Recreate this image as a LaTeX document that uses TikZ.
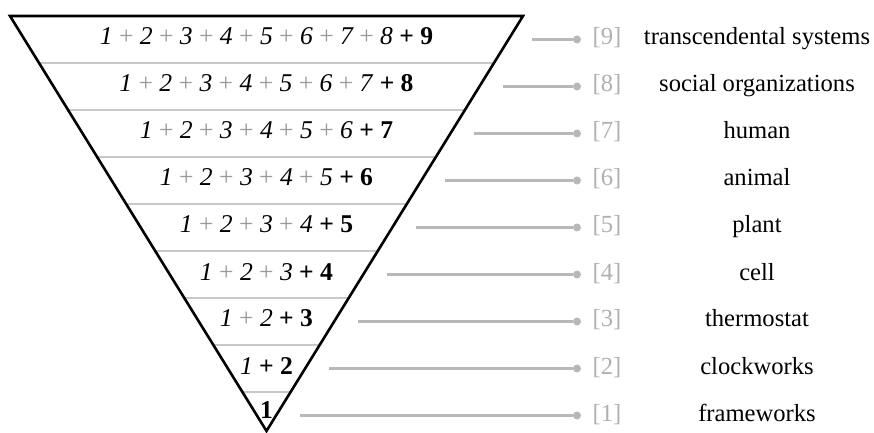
\documentclass[tikz,border=0pt]{standalone}
\usepackage{fontspec}
\setmainfont{Liberation Serif}
\usetikzlibrary{calc}
\definecolor{sepgray}{HTML}{C8C8C8}
\definecolor{linkgray}{HTML}{B8B8B8}
\definecolor{plusgray}{HTML}{999999}
\definecolor{numgray}{HTML}{B0B0B0}
\newcommand\gp{{\color{plusgray}\upshape+}}
\tikzset{
  tri/.style={line width=1.3pt},
  sep/.style={draw=sepgray,line width=1pt},
  lbl/.style={font=\fontsize{12.3}{14}\selectfont,inner sep=0pt,text height=8pt,text depth=2.5pt},
  sumtext/.style={lbl,font=\fontsize{12.8}{14}\selectfont},
  link/.style={draw=linkgray,line width=1.1pt},
  dot/.style={circle,fill=linkgray,inner sep=0pt,minimum size=4pt},
  idx/.style={lbl,text=numgray},
  kind/.style={lbl}
}
\begin{document}
\begin{tikzpicture}[x=0.5pt,y=-0.5pt]
  \useasboundingbox (0,0) rectangle (874,433);
  \coordinate (L) at (10,16);
  \coordinate (R) at (523,16);
  \coordinate (A) at (266.5,431);
  % bands
  \foreach \k in {1,...,8}
    \draw[sep] ($(L)!{\k*47/415}!(A)$) -- ($(R)!{\k*47/415}!(A)$);
  \draw[tri] (L) -- (R) -- (A) -- cycle;
  % sums
  \node[sumtext] (t9) at (266.5,39.5) {\textit{1 \gp{} 2 \gp{} 3 \gp{} 4 \gp{} 5 \gp{} 6 \gp{} 7 \gp{} 8} \textbf{+ 9}};
  \node[sumtext] (t8) at (266.5,86.5) {\textit{1 \gp{} 2 \gp{} 3 \gp{} 4 \gp{} 5 \gp{} 6 \gp{} 7} \textbf{+ 8}};
  \node[sumtext] (t7) at (266.5,133.5) {\textit{1 \gp{} 2 \gp{} 3 \gp{} 4 \gp{} 5 \gp{} 6} \textbf{+ 7}};
  \node[sumtext] (t6) at (266.5,180.5) {\textit{1 \gp{} 2 \gp{} 3 \gp{} 4 \gp{} 5} \textbf{+ 6}};
  \node[sumtext] (t5) at (266.5,227.5) {\textit{1 \gp{} 2 \gp{} 3 \gp{} 4} \textbf{+ 5}};
  \node[sumtext] (t4) at (266.5,274.5) {\textit{1 \gp{} 2 \gp{} 3} \textbf{+ 4}};
  \node[sumtext] (t3) at (266.5,321.5) {\textit{1 \gp{} 2} \textbf{+ 3}};
  \node[sumtext] (t2) at (266.5,368.5) {\textit{1} \textbf{+ 2}};
  \node[sumtext] (t1) at (266.5,412.5) {\textbf{1}};
  % levels
  \foreach \k/\kname in {9/transcendental systems,8/social organizations,7/human,6/animal,5/plant,4/cell,3/thermostat,2/clockworks,1/frameworks}{
    \pgfmathsetmacro\yy{39.5+47*(9-\k)}
    \pgfmathsetmacro\xx{266.5+0.618*(431-\yy)+24}
    \coordinate (s\k) at (\xx,\yy);
    \node[dot] (d\k) at (577,\yy) {};
    \node[idx] (b\k) at (607,\yy) {[\k]};
    \node[kind] (n\k) at (757,\yy) {\kname};
    \draw[link] (s\k) -- (d\k);
  }
\end{tikzpicture}
\end{document}
